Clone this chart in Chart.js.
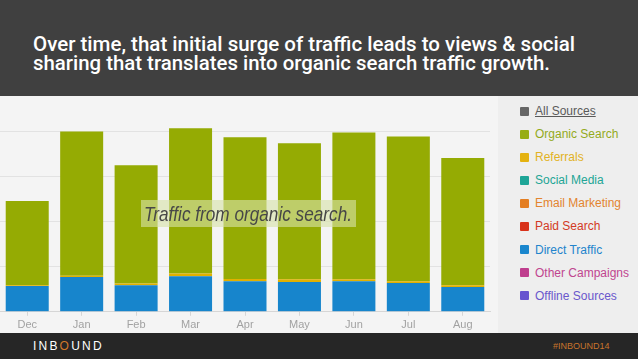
<!DOCTYPE html>
<html>
<head>
<meta charset="utf-8">
<script src="https://cdn.jsdelivr.net/npm/chart.js@4"></script>
<style>
  html, body { margin: 0; padding: 0; }
  body { width: 638px; height: 359px; position: relative; overflow: hidden; background: #f4f4f4; font-family: "Liberation Sans", Arial, sans-serif; }
  .header { position: absolute; left: 0; top: 0; width: 638px; height: 96px; background: #404040; }
  .header div { position: absolute; left: 33px; color: #fff; font-family: Roboto, "DejaVu Sans", sans-serif; font-weight: 500; font-size: 21px; line-height: 21px; white-space: nowrap; transform-origin: 0 0; }
  .panel { position: absolute; left: 498px; top: 96px; width: 140px; height: 237px; background: #eeeeee; }
  .chartBox { position: absolute; left: 0; top: 95px; width: 497px; height: 240px; }
  .legend { position: absolute; left: 520px; top: 103px; margin: 0; padding: 0; list-style: none; font-size: 12px; }
  .legend li { height: 23.1px; line-height: 16px; white-space: nowrap; }
  .legend span.box { display: inline-block; width: 9px; height: 9px; border-radius: 1px; margin-right: 6px; vertical-align: -0.5px; }
  .note { position: absolute; left: 141px; top: 200px; width: 215px; height: 27px; background: rgba(214, 226, 168, 0.62); }
  .note span { position: absolute; left: 3px; top: 2px; color: #474747; font-family: "Liberation Sans", sans-serif; font-style: italic; font-size: 21px; line-height: 23px; white-space: nowrap; transform-origin: 0 0; }
  .footer { position: absolute; left: 0; top: 333px; width: 638px; height: 26px; background: #262626; }
  .logo { position: absolute; left: 33px; top: 6px; color: #fff; font-size: 12px; letter-spacing: 2.2px; }
  .logo b { color: #d0782a; font-weight: normal; }
  .tag { position: absolute; left: 553px; top: 8px; color: #c8742c; font-size: 9px; }
</style>
</head>
<body>
<div class="header">
  <div class="fit" data-w="542" style="top:34px">Over time, that initial surge of traffic leads to views &amp; social</div>
  <div class="fit" data-w="517" style="top:53px">sharing that translates into organic search traffic growth.</div>
</div>
<div class="panel"></div>
<div class="chartBox"><canvas id="trafficChart"></canvas></div>
<ul class="legend" id="legend"></ul>
<div class="note"><span class="fit" data-w="208">Traffic from organic search.</span></div>
<div class="footer"><span class="logo">INB<b>O</b>UND</span><span class="tag">#INBOUND14</span></div>
<script>
const months = ['Dec', 'Jan', 'Feb', 'Mar', 'Apr', 'May', 'Jun', 'Jul', 'Aug'];
const directTraffic = [57, 77, 59, 79, 68, 66, 68, 64, 55];
const referrals = [2, 3, 4, 6, 5, 6, 4, 4, 4];
const organicSearch = [187, 320, 262, 322, 314, 302, 326, 321, 282];
const socialMedia = [0, 0, 0, 0, 0, 0, 0, 0, 0];
const emailMarketing = [0, 0, 0, 0, 0, 0, 0, 0, 0];
const paidSearch = [0, 0, 0, 0, 0, 0, 0, 0, 0];
const otherCampaigns = [0, 0, 0, 0, 0, 0, 0, 0, 0];
const offlineSources = [0, 0, 0, 0, 0, 0, 0, 0, 0];
const yTicks = [0, 100, 200, 300, 400];

const legendItems = [
    { label: 'All Sources', color: '#666666', text: '#5a5a5a' },
    { label: 'Organic Search', color: '#97ad13', text: '#93aa1c' },
    { label: 'Referrals', color: '#e4b210', text: '#e2b224' },
    { label: 'Social Media', color: '#1ea597', text: '#22a595' },
    { label: 'Email Marketing', color: '#e47e22', text: '#e3842f' },
    { label: 'Paid Search', color: '#d8321a', text: '#d33a24' },
    { label: 'Direct Traffic', color: '#1a86cd', text: '#2284cc' },
    { label: 'Other Campaigns', color: '#bf3e8e', text: '#c0458f' },
    { label: 'Offline Sources', color: '#6652cf', text: '#6a57cc' }
];

// squeeze header / note text to the widths in the slide (no condensed font here)
document.querySelectorAll('.fit').forEach(function (el) {
    const w = el.getBoundingClientRect().width;
    el.style.transform = 'scaleX(' + (el.dataset.w / w) + ')';
});

const legend = document.getElementById('legend');
legendItems.forEach(function (item, i) {
    const li = document.createElement('li');
    li.style.color = item.text;
    const box = document.createElement('span');
    box.className = 'box';
    box.style.background = item.color;
    li.appendChild(box);
    const t = document.createElement('span');
    t.textContent = item.label;
    if (i === 0) t.style.textDecoration = 'underline';
    li.appendChild(t);
    legend.appendChild(li);
});

function bar(label, data, color) {
    return { label: label, data: data, backgroundColor: color, borderWidth: 0, barPercentage: 0.79, categoryPercentage: 1 };
}

const ctx = document.getElementById('trafficChart').getContext('2d');
new Chart(ctx, {
    type: 'bar',
    data: {
        labels: months,
        datasets: [
            bar('Other Campaigns', otherCampaigns, '#bf3e8e'),
            bar('Direct Traffic', directTraffic, '#1785cc'),
            bar('Referrals', referrals, '#e2b000'),
            bar('Organic Search', organicSearch, '#95ab03'),
            bar('Social Media', socialMedia, '#1ea597'),
            bar('Email Marketing', emailMarketing, '#e47e22'),
            bar('Paid Search', paidSearch, '#d8321a'),
            bar('Offline Sources', offlineSources, '#6652cf')
        ]
    },
    options: {
        responsive: true,
        maintainAspectRatio: false,
        animation: false,
        layout: { padding: { left: -2, right: 7, top: 0, bottom: 0 } },
        plugins: {
            legend: { display: false },
            tooltip: { enabled: false }
        },
        scales: {
            x: {
                stacked: true,
                grid: { display: true, drawOnChartArea: false, offset: false, tickLength: 4, color: '#d6d6d6' },
                border: { color: '#d6d6d6' },
                ticks: { color: '#a2a2a2', font: { family: 'Liberation Sans', size: 11 }, padding: 3 }
            },
            y: {
                stacked: true,
                min: 0,
                max: 481,
                afterBuildTicks: function (axis) {
                    axis.ticks = yTicks.map(function (v) { return { value: v }; });
                },
                grid: { color: '#e2e2e2', drawTicks: false },
                border: { display: false },
                ticks: { display: false }
            }
        }
    }
});
</script>
</body>
</html>
